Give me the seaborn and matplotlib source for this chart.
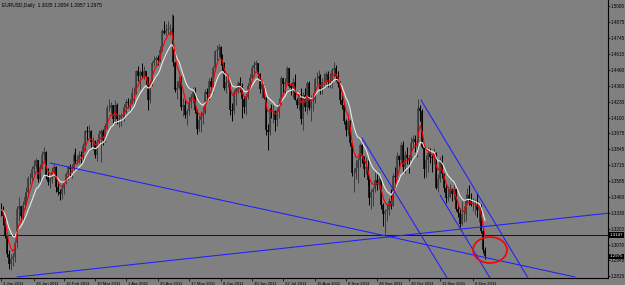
import numpy as np
import pandas as pd
import matplotlib
matplotlib.use("Agg")
import matplotlib.pyplot as plt
import matplotlib.transforms as mtrans
from matplotlib.patches import Ellipse
import seaborn as sns

# ---------------- data (EURUSD daily, prices in pips x1e-4) ----------------
first_open = 13360
closes = [
    # Jan
    13355, 13300, 13140, 12990, 12910, 12950, 12970, 13080, 13360, 13380,
    13300, 13390, 13460, 13500, 13610, 13610, 13680, 13710, 13760, 13600, 13700,
    # Feb
    13800, 13820, 13630, 13580, 13600, 13660, 13700, 13540, 13500, 13480,
    13530, 13580, 13640, 13700, 13680, 13690, 13800, 13750, 13760, 13800,
    # Mar
    13790, 13870, 13990, 13980, 13990, 13900, 13910, 13800, 13900, 13970,
    13990, 13920, 14030, 14180, 14180, 14200, 14090, 14200, 14090, 14100,
    14110, 14120, 14180,
    # Apr
    14230, 14220, 14220, 14300, 14300, 14480, 14440, 14470, 14440, 14480,
    14430, 14240, 14370, 14540, 14570, 14580, 14570, 14650, 14800, 14790, 14810,
    # May
    14820, 14830, 14830, 14550, 14320, 14340, 14400, 14190, 14200, 14120,
    14150, 14230, 14270, 14310, 14160, 14010, 14080, 14110, 14140, 14310,
    14290, 14400,
    # Jun
    14350, 14500, 14640, 14650, 14670, 14580, 14540, 14340, 14390, 14400,
    14160, 14150, 14310, 14330, 14380, 14360, 14250, 14190, 14270, 14360,
    14420, 14500,
    # Jul
    14530, 14540, 14450, 14330, 14370, 14260, 14000, 13980, 14170, 14150,
    14150, 14080, 14150, 14220, 14420, 14370, 14390, 14500, 14360, 14340, 14390,
    # Aug
    14240, 14200, 14290, 14090, 14280, 14190, 14380, 14180, 14240, 14240,
    14410, 14410, 14440, 14330, 14390, 14390, 14450, 14390, 14400, 14490,
    14500, 14440, 14370,
    # Sep
    14240, 14200, 14070, 14000, 14070, 13890, 13650, 13650, 13690, 13760,
    13880, 13790, 13680, 13700, 13590, 13450, 13500, 13520, 13590, 13550,
    13600, 13390,
    # Oct
    13320, 13340, 13350, 13420, 13380, 13630, 13620, 13790, 13760, 13880,
    13700, 13800, 13770, 13760, 13890, 13930, 13900, 13900, 14180, 14150, 13860,
    # Nov
    13680, 13760, 13810, 13780, 13770, 13810, 13530, 13600, 13750, 13640,
    13530, 13450, 13460, 13520, 13480, 13520, 13360, 13330, 13240, 13320,
    13320, 13440,
    # Dec
    13470, 13440, 13390, 13390, 13390, 13350, 13380, 13180, 13030, 12975,
]
highs = [
    13405, 13385, 13310, 13150, 13030, 12990, 13000, 13110, 13380, 13460,
    13380, 13420, 13490, 13540, 13630, 13650, 13710, 13760, 13770, 13760, 13720,
    13830, 13860, 13830, 13690, 13620, 13700, 13720, 13710, 13580, 13520,
    13560, 13590, 13660, 13710, 13720, 13720, 13820, 13850, 13800, 13830,
    13830, 13890, 14000, 14030, 14040, 14000, 13940, 13920, 13930, 14000,
    14010, 14010, 14060, 14200, 14250, 14230, 14200, 14240, 14220, 14130,
    14140, 14190, 14210,
    14250, 14260, 14250, 14340, 14350, 14490, 14520, 14490, 14540, 14520,
    14480, 14430, 14390, 14560, 14600, 14600, 14610, 14680, 14820, 14880, 14860,
    14880, 14860, 14940, 14930, 14550, 14400, 14440, 14440, 14260, 14240,
    14170, 14270, 14290, 14350, 14350, 14170, 14120, 14150, 14190, 14330,
    14340, 14420,
    14430, 14520, 14650, 14690, 14700, 14680, 14620, 14550, 14440, 14450,
    14400, 14220, 14320, 14350, 14400, 14430, 14380, 14270, 14290, 14380,
    14450, 14530,
    14560, 14570, 14540, 14460, 14380, 14370, 14270, 14050, 14190, 14210,
    14200, 14160, 14180, 14260, 14440, 14420, 14420, 14520, 14500, 14380, 14420,
    14450, 14260, 14300, 14340, 14310, 14340, 14400, 14400, 14280, 14300,
    14430, 14470, 14490, 14450, 14420, 14460, 14480, 14480, 14460, 14500,
    14550, 14530, 14480,
    14400, 14290, 14210, 14090, 14120, 14080, 13890, 13690, 13760, 13770,
    13890, 13920, 13780, 13780, 13760, 13600, 13520, 13540, 13660, 13640,
    13660, 13610,
    13410, 13360, 13400, 13450, 13520, 13650, 13700, 13820, 13800, 13900,
    13910, 13830, 13860, 13800, 13940, 13960, 13960, 13960, 14250, 14200, 14170,
    13870, 13800, 13860, 13850, 13800, 13850, 13820, 13640, 13780, 13800,
    13650, 13560, 13530, 13560, 13530, 13560, 13530, 13390, 13370, 13420,
    13380, 13480,
    13530, 13550, 13490, 13450, 13440, 13490, 13420, 13400, 13220, 13054,
]
lows = [
    13305, 13230, 13120, 12970, 12870, 12860, 12900, 12930, 13040, 13260,
    13260, 13270, 13360, 13390, 13460, 13560, 13580, 13640, 13680, 13580, 13570,
    13680, 13760, 13600, 13550, 13530, 13570, 13620, 13500, 13470, 13430,
    13440, 13480, 13560, 13590, 13620, 13610, 13670, 13730, 13720, 13730,
    13730, 13750, 13830, 13920, 13940, 13860, 13840, 13770, 13750, 13880,
    13740, 13880, 13900, 14010, 14150, 14140, 14060, 14060, 14050, 14020,
    14030, 14090, 14070,
    14130, 14180, 14150, 14210, 14220, 14290, 14400, 14330, 14420, 14410,
    14370, 14160, 14220, 14360, 14520, 14530, 14530, 14550, 14640, 14780, 14770,
    14780, 14770, 14800, 14520, 14310, 14250, 14330, 14160, 14110, 14100,
    14040, 14120, 14180, 14220, 14140, 13970, 13990, 13980, 14050, 14130,
    14250, 14240,
    14320, 14300, 14480, 14570, 14590, 14530, 14480, 14320, 14300, 14350,
    14120, 14070, 14130, 14200, 14300, 14310, 14100, 14140, 14120, 14250,
    14340, 14410,
    14440, 14490, 14420, 14300, 14260, 14250, 13960, 13840, 13960, 14100,
    14060, 13990, 14030, 14100, 14200, 14290, 14300, 14370, 14350, 14280, 14260,
    14240, 14180, 14160, 14050, 14000, 14150, 14130, 14160, 14070, 14150,
    14220, 14370, 14380, 14290, 14290, 14340, 14360, 14350, 14340, 14340,
    14430, 14400, 14350,
    14210, 14170, 14050, 13950, 13960, 13870, 13630, 13500, 13600, 13570,
    13700, 13730, 13620, 13640, 13550, 13390, 13360, 13380, 13500, 13510,
    13520, 13360,
    13220, 13150, 13260, 13310, 13360, 13380, 13530, 13600, 13700, 13740,
    13660, 13650, 13720, 13650, 13740, 13860, 13820, 13780, 13900, 14070, 13850,
    13610, 13620, 13660, 13730, 13660, 13720, 13520, 13500, 13580, 13610,
    13500, 13410, 13420, 13450, 13420, 13440, 13340, 13290, 13210, 13230,
    13250, 13260,
    13400, 13390, 13380, 13340, 13310, 13290, 13250, 13160, 13000, 12957,
]

header = "EURUSD,Daily  1.3035 1.3054 1.2957 1.2975"
date_labels = ["3 Jan 2011", "26 Jan 2011", "16 Feb 2011", "10 Mar 2011",
               "1 Apr 2011", "25 Apr 2011", "17 May 2011", "8 Jun 2011",
               "30 Jun 2011", "22 Jul 2011", "15 Aug 2011", "6 Sep 2011",
               "28 Sep 2011", "20 Oct 2011", "11 Nov 2011", "6 Dec 2011"]
date_label_bars = [0, 17, 32, 48, 64, 80, 96, 112, 128, 144, 160, 176, 192, 208, 224, 241]
price_ticks = [1.5005, 1.4875, 1.4745, 1.4615, 1.4490, 1.4360, 1.4230, 1.4100,
               1.3975, 1.3845, 1.3715, 1.3585, 1.3460, 1.3330, 1.3200, 1.3070,
               1.2945, 1.2815]
support_level = 1.3147
last_price = 1.2975

# trend lines: (bar0, price0, bar1, price1)
trend_lines = [
    (25.0, 1.3732, 292.9, 1.2807),
    (8.2, 1.2807, 315.8, 1.3335),
    (184.2, 1.3934, 227.6, 1.2799),
    (214.3, 1.4243, 268.9, 1.2799),
    (224.0, 1.3472, 249.5, 1.2799),
]
circle_center = (249.5, 1.3026)
circle_size = (17.3, 0.0211)

# ---------------- frame ----------------
c = np.array(closes) / 1e4
h = np.array(highs) / 1e4
l = np.array(lows) / 1e4
o = np.concatenate([[first_open / 1e4], c[:-1]])
bars = np.arange(len(c))
df = pd.DataFrame({"bar": bars, "open": o, "high": h, "low": l, "close": c})
df["ma_fast"] = df["close"].ewm(span=5, adjust=False).mean()
df["ma_slow"] = df["close"].ewm(span=12, adjust=False).mean()

BG = "#808080"
sns.set_style("white", {"axes.facecolor": BG, "figure.facecolor": BG})
plt.rcParams["font.family"] = ["Liberation Sans", "DejaVu Sans"]

fig = plt.figure(figsize=(6.25, 2.85), dpi=100)
fig.patch.set_facecolor(BG)
ax = fig.add_axes([0, 7 / 285, 608 / 625, 278 / 285])
ax.set_facecolor(BG)

# candles
up = df["close"] >= df["open"]
for mask, col in [(up, "#3c3c3c"), (~up, "#000000")]:
    d = df[mask]
    ax.vlines(d["bar"], d["low"], d["high"], color=col, lw=0.7, zorder=2)
    ax.vlines(d["bar"], np.minimum(d["open"], d["close"]),
              np.maximum(d["open"], d["close"]), color=col, lw=1.1, zorder=2)

sns.lineplot(data=df, x="bar", y="ma_slow", color="#e8e8e8", lw=0.8, ax=ax, zorder=3)
sns.lineplot(data=df, x="bar", y="ma_fast", color="#ff0000", lw=0.8, ax=ax, zorder=4)

for b0, p0, b1, p1 in trend_lines:
    ax.plot([b0, b1], [p0, p1], color="#1f1fff", lw=0.75, zorder=5)
ax.axhline(support_level, color="#1a1a1a", lw=0.75, zorder=1)
ax.add_patch(Ellipse(circle_center, circle_size[0], circle_size[1], fill=False,
                     ec="#ff0000", lw=1.2, zorder=6))

ax.set_xlim(-0.51, 309.7)
ax.set_ylim(1.2799, 1.5054)
ax.set_xlabel("")
ax.set_ylabel("")

for s in ["left", "top"]:
    ax.spines[s].set_visible(False)
for s in ["right", "bottom"]:
    ax.spines[s].set_visible(True)
    ax.spines[s].set_color("black")
    ax.spines[s].set_linewidth(0.8)

ax.yaxis.tick_right()
ax.set_yticks(price_ticks)
ax.set_yticklabels([f"{p:.4f}" for p in price_ticks])
ax.tick_params(axis="y", direction="out", length=1.5, width=0.5, pad=0.3,
               labelsize=3.3, colors="black", right=True, left=False)
ax.set_xticks(date_label_bars)
ax.set_xticklabels(date_labels)
ax.tick_params(axis="x", direction="out", length=2.5, width=0.5, pad=0.2,
               labelsize=3.1, colors="black", bottom=True)
offset = mtrans.ScaledTranslation(2 / 100, 0, fig.dpi_scale_trans)
for lbl in ax.get_xticklabels():
    lbl.set_ha("left")
    lbl.set_transform(lbl.get_transform() + offset)

tr = mtrans.blended_transform_factory(ax.transAxes, ax.transData)
for p in [support_level, last_price]:
    ax.text(1.003, p, f"{p:.4f}", transform=tr, ha="left", va="center",
            fontsize=3.2, color="white", zorder=10,
            bbox=dict(boxstyle="square,pad=0.15", fc="black", ec="none"))

ax.text(2 / 608, 1 - 5 / 278, header, transform=ax.transAxes, ha="left",
        va="center", fontsize=3.5, color="black")

fig.savefig("out.png", dpi=100, facecolor=BG)
